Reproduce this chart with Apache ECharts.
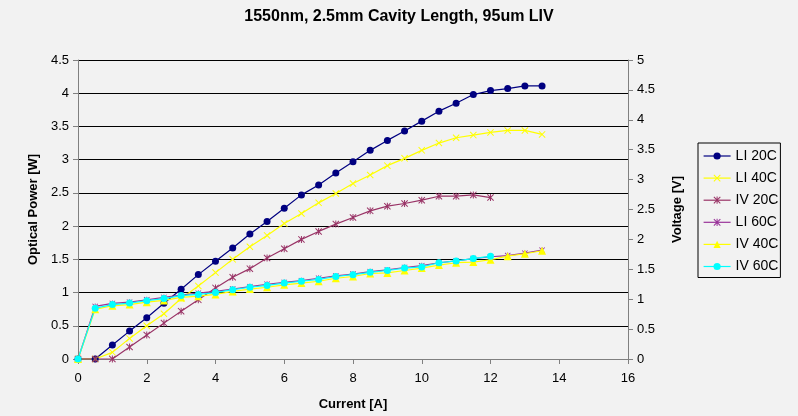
<!DOCTYPE html>
<html>
<head>
<meta charset="utf-8">
<script src="https://cdn.jsdelivr.net/npm/echarts@6/dist/echarts.min.js"></script>
<style>
html,body{margin:0;padding:0;background:#F2F2F2;}
#chart{width:798px;height:416px;}
</style>
</head>
<body>
<div id="chart"></div>
<script>
// Current [A]
var current = [0,0.5,1,1.5,2,2.5,3,3.5,4,4.5,5,5.5,6,6.5,7,7.5,8,8.5,9,9.5,10,10.5,11,11.5,12,12.5,13,13.5];
// Optical power [W] (left axis)
var li20 = [0,0,0.21,0.42,0.62,0.84,1.05,1.27,1.47,1.67,1.88,2.07,2.27,2.47,2.62,2.80,2.97,3.14,3.29,3.43,3.58,3.73,3.85,3.98,4.04,4.07,4.11,4.11];
var li40 = [0,0,0.10,0.31,0.50,0.68,0.91,1.10,1.30,1.50,1.69,1.86,2.04,2.19,2.35,2.49,2.64,2.77,2.91,3.02,3.14,3.25,3.33,3.37,3.41,3.44,3.44,3.38];
var mauveCurve = [0,0,0,0.18,0.36,0.54,0.72,0.89,1.07,1.23,1.36,1.52,1.66,1.80,1.92,2.03,2.13,2.23,2.30,2.34,2.39,2.45,2.45,2.47,2.43];
// Voltage [V] (right axis)
var purpleIV = [0,0.88,0.93,0.95,0.99,1.03,1.07,1.10,1.13,1.17,1.21,1.25,1.28,1.31,1.35,1.39,1.42,1.46,1.49,1.53,1.56,1.61,1.64,1.68,1.71,1.73,1.77,1.82];
var iv40 = [0,0.83,0.89,0.91,0.95,0.98,1.03,1.05,1.08,1.13,1.17,1.20,1.24,1.27,1.30,1.35,1.38,1.43,1.44,1.48,1.52,1.57,1.61,1.62,1.66,1.72,1.76,1.81];
var iv60 = [0,0.85,0.91,0.935,0.975,1.01,1.06,1.08,1.11,1.16,1.20,1.23,1.27,1.30,1.33,1.38,1.41,1.45,1.48,1.52,1.54,1.61,1.64,1.68,1.72];

var legendNames = ['LI 20C','LI 40C','IV 20C','LI 60C','IV 40C','IV 60C'];
var titleText = '1550nm, 2.5mm Cavity Length, 95um LIV';

function pairs(ys){ return ys.map(function(v,i){ return [current[i], v]; }); }

var XSYM = 'path://M0,1 L1,0 L10,9 L9,10 Z M9,0 L10,1 L1,10 L0,9 Z';
var STAR = 'path://M0,1 L1,0 L10,9 L9,10 Z M9,0 L10,1 L1,10 L0,9 Z M4.3,0 L5.7,0 L5.7,10 L4.3,10 Z';
var FONT = 'Liberation Sans';

function mk(name, data, color, symbol, size, yIdx){
  return {
    name: name, type: 'line', yAxisIndex: yIdx, data: pairs(data),
    symbol: symbol, symbolSize: size, showSymbol: true,
    lineStyle: {color: color, width: 1.2},
    itemStyle: {color: color},
    animation: false
  };
}

var chart = echarts.init(document.getElementById('chart'), null, {renderer:'canvas'});
chart.setOption({
  backgroundColor: '#F2F2F2',
  animation: false,
  textStyle: {fontFamily: FONT},
  title: {
    text: titleText, left: 'center', top: 4,
    textStyle: {fontFamily: FONT, fontSize: 16, fontWeight: 'bold', color: '#000'}
  },
  legend: {
    data: legendNames, orient: 'vertical', left: 698, top: 143,
    itemWidth: 27, itemHeight: 9, itemGap: 8.1,
    padding: [6, 2, 4, 5],
    borderColor: '#000', borderWidth: 1,
    lineStyle: {width: 1.2},
    textStyle: {fontFamily: FONT, fontSize: 14, lineHeight: 14, color: '#000'}
  },
  grid: {left: 78, right: 170, top: 60, bottom: 55, containLabel: false},
  xAxis: {
    type: 'value', min: 0, max: 16, interval: 2,
    name: 'Current [A]', nameLocation: 'middle', nameGap: 39,
    nameTextStyle: {fontFamily: FONT, fontSize: 13, fontWeight: 'bold', color: '#000'},
    axisLine: {show: true, lineStyle: {color: '#808080', width: 1}},
    axisTick: {show: true, inside: false, length: 5, lineStyle: {color: '#808080'}},
    axisLabel: {margin: 13, fontFamily: FONT, fontSize: 13, color: '#000'},
    splitLine: {show: false}
  },
  yAxis: [{
    type: 'value', min: 0, max: 4.5, interval: 0.5, position: 'left',
    name: 'Optical Power [W]', nameLocation: 'middle', nameGap: 38, nameRotate: 90,
    nameTextStyle: {fontFamily: FONT, fontSize: 13, fontWeight: 'bold', color: '#000'},
    axisLine: {show: true, lineStyle: {color: '#808080', width: 1}},
    axisTick: {show: true, inside: false, length: 5, lineStyle: {color: '#808080'}},
    axisLabel: {margin: 9, fontFamily: FONT, fontSize: 13, color: '#000'},
    splitLine: {show: true, lineStyle: {color: '#000', width: 1}}
  }, {
    type: 'value', min: 0, max: 5, interval: 0.5, position: 'right',
    name: 'Voltage [V]', nameLocation: 'middle', nameGap: 43, nameRotate: 90,
    nameTextStyle: {fontFamily: FONT, fontSize: 13, fontWeight: 'bold', color: '#000'},
    axisLine: {show: true, lineStyle: {color: '#808080', width: 1}},
    axisTick: {show: true, inside: false, length: 5, lineStyle: {color: '#808080'}},
    axisLabel: {margin: 9, fontFamily: FONT, fontSize: 13, color: '#000'},
    splitLine: {show: false}
  }],
  series: [
    mk('LI 20C', li20, '#000080', 'circle', 7, 0),
    mk('LI 40C', li40, '#FFFF00', XSYM, 7, 0),
    mk('IV 20C', mauveCurve, '#993366', STAR, 7, 0),
    mk('LI 60C', purpleIV, '#993399', STAR, 6, 1),
    mk('IV 40C', iv40, '#FFFF00', 'triangle', 8, 1),
    mk('IV 60C', iv60, '#00FFFF', 'circle', 7, 1)
  ]
});
</script>
</body>
</html>
